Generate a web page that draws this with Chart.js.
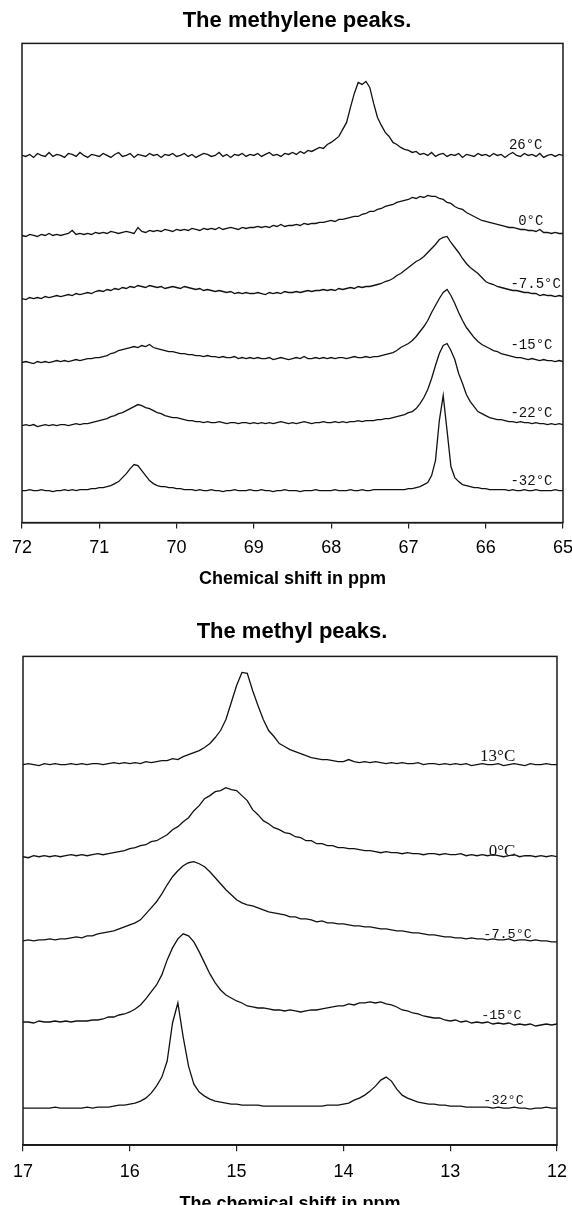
<!DOCTYPE html>
<html>
<head>
<meta charset="utf-8">
<script src="https://cdn.jsdelivr.net/npm/chart.js@4.4.0/dist/chart.umd.min.js"></script>
<style>
  html, body { margin: 0; padding: 0; background: #fff; overflow: hidden; }
  #wrap { position: relative; width: 572px; height: 1205px; overflow: hidden; }
  canvas { position: absolute; left: 0; }
  #topChart { top: 0; }
  #bottomChart { top: 610px; }
</style>
</head>
<body>
<div id="wrap">
  <canvas id="topChart" width="582" height="610"></canvas>
  <canvas id="bottomChart" width="577" height="630"></canvas>
</div>
<script>
// ---- methylene spectra (ppm 72 -> 65), intensity above each trace's baseline
var ppmTop = [
  72,71.95,71.9,71.85,71.8,71.75,71.7,71.65,71.6,71.55,71.5,71.45,71.4,71.35,71.3,71.25,71.2,71.15,71.1,71.05,
  71,70.95,70.9,70.85,70.8,70.75,70.7,70.65,70.6,70.55,70.5,70.45,70.4,70.35,70.3,70.25,70.2,70.15,70.1,70.05,
  70,69.95,69.9,69.85,69.8,69.75,69.7,69.65,69.6,69.55,69.5,69.45,69.4,69.35,69.3,69.25,69.2,69.15,69.1,69.05,
  69,68.95,68.9,68.85,68.8,68.75,68.7,68.65,68.6,68.55,68.5,68.45,68.4,68.35,68.3,68.25,68.2,68.15,68.1,68.05,
  68,67.95,67.9,67.85,67.8,67.75,67.7,67.65,67.6,67.55,67.5,67.45,67.4,67.35,67.3,67.25,67.2,67.15,67.1,67.05,
  67,66.95,66.9,66.85,66.8,66.75,66.7,66.65,66.6,66.55,66.5,66.45,66.4,66.35,66.3,66.25,66.2,66.15,66.1,66.05,
  66,65.95,65.9,65.85,65.8,65.75,65.7,65.65,65.6,65.55,65.5,65.45,65.4,65.35,65.3,65.25,65.2,65.15,65.1,65.05,
  65
];
var tempsTop = ['26°C', '0°C', '-7.5°C', '-15°C', '-22°C', '-32°C'];
var offsetTop = [367, 287, 224, 160, 97, 32];

var ch2_26 = [
  0,-1,1,-2,2,0,-1,3,-1,1,0,-2,2,1,-1,3,0,-2,1,0,
  -1,2,0,-2,1,3,-1,0,2,-2,1,0,-1,2,0,1,-2,1,0,2,
  -1,0,2,-1,1,-2,0,2,1,-1,0,3,-1,1,-2,1,0,2,-1,1,
  0,2,-1,1,3,0,1,-1,2,1,3,1,4,2,5,4,6,8,7,11,
  13,16,19,26,33,48,62,73,71,74,68,52,38,30,23,19,13,11,8,6,
  5,3,4,1,2,0,3,-1,1,2,-1,1,0,2,-2,1,0,-1,2,0,
  1,-1,2,0,1,-2,1,3,0,-1,2,0,1,-1,2,-2,0,1,-1,1,
  0
];
var ch2_0 = [
  0,-1,1,0,-1,1,0,2,0,1,0,1,2,5,1,2,1,2,1,3,
  2,3,2,4,3,2,3,4,3,2,8,4,3,5,4,5,4,6,5,4,
  6,5,6,5,7,6,5,7,6,7,6,8,6,7,8,7,6,8,7,8,
  8,9,8,9,8,10,9,11,9,10,10,11,10,12,11,12,12,13,13,14,
  15,14,16,16,17,18,19,19,21,22,24,24,26,27,29,30,31,33,34,35,
  36,38,37,39,38,40,39,39,37,36,33,32,29,27,26,23,21,19,17,15,
  14,13,12,11,10,9,8,8,7,6,6,5,5,4,6,3,3,2,3,2,
  2
];
var ch2_m7 = [
  0,-1,1,0,1,0,2,1,2,3,2,3,4,3,5,4,5,6,5,7,
  8,7,9,8,10,9,11,10,12,11,13,12,11,13,12,11,12,10,11,12,
  11,10,12,11,10,9,10,8,9,8,7,8,7,6,7,5,6,5,6,5,
  5,6,5,4,6,5,6,5,7,6,6,7,6,7,8,7,8,8,9,8,
  9,8,10,9,10,11,10,12,11,12,12,13,14,15,17,18,20,23,25,28,
  31,34,37,39,42,46,50,54,59,61,62,56,51,46,40,35,31,28,25,21,
  17,15,14,12,11,10,9,8,8,7,6,6,5,5,3,4,3,3,2,3,
  2
];
var ch2_m15 = [
  0,1,0,-1,1,0,1,0,1,2,1,2,1,2,3,2,3,4,4,5,
  5,6,7,9,10,12,13,14,15,16,15,17,16,18,15,14,13,12,11,11,
  10,9,9,8,8,7,7,6,7,6,6,5,6,5,5,6,4,5,4,5,
  4,5,4,4,5,3,4,5,4,3,4,5,4,6,4,4,5,4,5,4,
  5,4,5,5,4,5,6,5,5,6,5,6,6,7,8,9,10,12,15,17,
  19,22,26,31,36,42,50,57,64,70,73,67,59,50,42,35,30,25,21,18,
  16,14,12,11,9,8,7,6,5,5,4,3,4,3,2,3,2,2,1,2,
  1
];
var ch2_m22 = [
  0,1,0,1,-1,0,1,0,1,0,1,1,0,1,2,1,2,2,3,4,
  5,6,7,9,10,12,13,15,17,19,21,20,18,17,15,13,12,10,9,8,
  8,7,6,5,5,4,4,3,4,3,3,4,3,2,3,3,2,3,3,2,
  3,2,3,2,3,2,3,4,3,2,3,2,3,4,3,2,3,3,4,3,
  3,4,3,4,3,4,4,5,4,5,5,5,6,6,7,7,8,9,10,11,
  13,14,17,22,28,36,47,60,72,80,82,75,66,52,42,31,24,19,14,12,
  10,8,7,6,6,5,4,4,3,4,3,3,2,3,2,2,1,2,1,2,
  1
];
var ch2_m32 = [
  0,0,1,0,0,1,0,0,-1,0,0,1,0,1,0,1,1,1,2,2,
  3,3,4,5,7,9,13,17,22,26,25,20,15,10,7,5,4,4,3,3,
  2,2,1,1,1,0,1,0,0,1,0,0,-1,0,0,1,0,0,0,1,
  0,0,1,0,0,-1,0,0,1,0,0,0,-1,0,0,0,1,0,0,0,
  0,1,0,0,0,1,0,0,1,0,0,1,1,1,1,1,1,1,1,1,
  2,2,3,4,6,8,15,30,70,95,60,24,13,9,6,5,4,3,3,2,
  2,1,1,1,1,1,0,1,0,0,1,0,0,1,0,0,0,0,1,0,
  0
];

// ---- methyl spectra (ppm 17 -> 12)
var ppmBottom = [
  17,16.95,16.9,16.85,16.8,16.75,16.7,16.65,16.6,16.55,16.5,16.45,16.4,16.35,16.3,16.25,16.2,16.15,16.1,16.05,
  16,15.95,15.9,15.85,15.8,15.75,15.7,15.65,15.6,15.55,15.5,15.45,15.4,15.35,15.3,15.25,15.2,15.15,15.1,15.05,
  15,14.95,14.9,14.85,14.8,14.75,14.7,14.65,14.6,14.55,14.5,14.45,14.4,14.35,14.3,14.25,14.2,14.15,14.1,14.05,
  14,13.95,13.9,13.85,13.8,13.75,13.7,13.65,13.6,13.55,13.5,13.45,13.4,13.35,13.3,13.25,13.2,13.15,13.1,13.05,
  13,12.95,12.9,12.85,12.8,12.75,12.7,12.65,12.6,12.55,12.5,12.45,12.4,12.35,12.3,12.25,12.2,12.15,12.1,12.05,
  12
];
var tempsBottom = ['13°C', '0°C', '-7.5°C', '-15°C', '-32°C'];
var offsetBottom = [380, 288, 204, 123, 37];

var ch3_13 = [
  0,1,0,-1,1,0,1,0,0,1,0,1,0,1,1,0,1,2,1,2,
  1,2,1,3,2,3,4,4,6,5,8,10,12,14,17,21,27,34,45,62,
  79,92,91,74,59,45,34,28,21,18,15,13,11,9,7,6,5,5,4,3,
  3,5,3,2,3,2,3,2,1,2,1,2,1,1,2,0,1,1,0,1,
  0,1,0,1,-1,0,1,0,0,1,-1,0,1,0,-1,1,0,0,1,0,
  0
];
var ch3_0 = [
  0,-1,1,0,1,0,1,0,1,2,1,2,1,2,3,2,3,4,5,6,
  8,9,11,12,15,16,19,22,27,30,35,39,46,51,58,61,65,66,69,67,
  66,61,56,47,42,36,33,29,27,24,23,20,19,16,16,13,13,11,11,9,
  9,8,8,7,6,6,5,4,5,4,4,3,4,3,3,2,3,3,2,3,
  2,2,3,1,2,1,2,1,2,1,0,1,2,0,1,1,0,1,0,1,
  0
];
var ch3_m7 = [
  0,1,0,1,1,2,1,2,2,3,4,3,5,5,7,8,9,10,12,14,
  16,18,21,27,33,39,47,56,64,70,75,78,79,77,74,69,63,57,51,46,
  41,38,36,35,33,31,29,28,27,26,24,24,22,22,21,19,20,18,18,17,
  17,16,15,15,14,14,13,12,12,11,10,10,9,8,8,7,6,6,5,4,
  4,3,3,2,3,2,2,1,2,1,1,2,0,1,1,0,1,0,0,-1,
  -1
];
var ch3_m15 = [
  0,0,-1,1,0,0,1,0,1,0,1,1,1,2,2,3,5,5,7,8,
  10,13,17,23,30,37,47,62,74,83,88,86,80,70,59,48,39,32,27,24,
  21,19,16,15,14,14,13,12,12,11,12,11,10,11,12,12,13,14,15,16,
  16,18,17,19,19,20,19,20,18,17,15,12,11,9,8,6,5,4,4,2,
  1,2,0,1,-1,0,-1,0,-2,-1,-2,-1,-3,-2,-3,-2,-4,-3,-2,-3,
  -2
];
var ch3_m32 = [
  0,0,0,0,0,0,1,0,0,0,0,0,1,0,1,1,1,2,3,3,
  4,5,7,10,15,22,31,47,85,105,71,42,24,16,12,9,7,6,5,4,
  4,3,3,3,3,2,2,2,2,2,2,2,2,2,2,2,2,3,3,3,
  4,5,8,10,13,17,22,28,31,27,19,13,10,8,6,5,4,4,3,3,
  2,2,2,1,1,1,1,1,0,1,0,0,1,0,0,-1,0,0,1,0,
  0
];

Chart.defaults.font.family = '"Liberation Sans", Arial, sans-serif';
Chart.defaults.color = '#000';

var framePlugin = {
  id: 'frame',
  afterDatasetsDraw: function(chart) {
    var a = chart.chartArea;
    var ctx = chart.ctx;
    ctx.save();
    ctx.strokeStyle = '#1a1a1a';
    ctx.lineWidth = 1.5;
    ctx.strokeRect(a.left, a.top, a.right - a.left, a.bottom - a.top);
    ctx.restore();
  }
};

var tempLabelPlugin = {
  id: 'tempLabels',
  afterDatasetsDraw: function(chart, args, opts) {
    var ctx = chart.ctx;
    var xs = chart.scales.x, ys = chart.scales.y;
    ctx.save();
    ctx.fillStyle = '#111';
    ctx.textBaseline = 'middle';
    ctx.textAlign = 'left';
    chart.data.datasets.forEach(function(ds, i) {
      ctx.font = opts.fonts[i];
      ctx.fillText(ds.label, xs.getPixelForValue(opts.at[i]), ys.getPixelForValue(opts.offsets[i] + opts.lift[i]));
    });
    ctx.restore();
  }
};

function buildSets(ppm, series, offsets, names) {
  return series.map(function(vals, i) {
    return {
      label: names[i],
      data: ppm.map(function(x, j) { return {x: x, y: offsets[i] + vals[j]}; }),
      borderColor: '#111',
      borderWidth: 1.3,
      pointRadius: 0,
      tension: 0,
      fill: false
    };
  });
}

function makeChart(id, cfg) {
  return new Chart(document.getElementById(id), {
    type: 'line',
    data: { datasets: buildSets(cfg.ppm, cfg.series, cfg.offsets, cfg.names) },
    plugins: [framePlugin, tempLabelPlugin],
    options: {
      responsive: false,
      animation: false,
      events: [],
      layout: { padding: cfg.pad },
      scales: {
        x: {
          type: 'linear',
          min: cfg.min,
          max: cfg.max,
          reverse: true,
          ticks: { stepSize: 1, padding: cfg.tickPad, font: { size: 18 }, color: '#000' },
          grid: { display: true, drawOnChartArea: false, drawTicks: true, tickLength: 6, color: '#222', lineWidth: 1.2 },
          border: { display: true, color: '#1a1a1a', width: 1.5 },
          title: { display: true, text: cfg.xTitle, font: { size: 18, weight: 'bold' }, color: '#000', padding: cfg.xTitlePad }
        },
        y: { display: false, min: 0, max: cfg.yMax }
      },
      plugins: {
        legend: { display: false },
        tooltip: { enabled: false },
        title: { display: true, text: cfg.title, font: { size: 22, weight: 'bold' }, color: '#000', padding: cfg.titlePad },
        tempLabels: cfg.labels
      }
    }
  });
}

makeChart('topChart', {
  ppm: ppmTop,
  series: [ch2_26, ch2_0, ch2_m7, ch2_m15, ch2_m22, ch2_m32],
  offsets: offsetTop,
  names: tempsTop,
  min: 65, max: 72, yMax: 479,
  title: 'The methylene peaks.',
  xTitle: 'Chemical shift in ppm',
  pad: { left: 22, right: 10, top: 0, bottom: 0 },
  titlePad: { top: 8, bottom: 9 },
  tickPad: 9,
  xTitlePad: { top: 0, bottom: 20.2 },
  labels: {
    at: [65.70, 65.58, 65.68, 65.68, 65.68, 65.68],
    offsets: offsetTop,
    lift: [10, 14.5, 14.7, 17.7, 12, 9],
    fonts: ['14px "Liberation Mono"', '14px "Liberation Mono"', '14px "Liberation Mono"',
            '14px "Liberation Mono"', '14px "Liberation Mono"', '14px "Liberation Mono"']
  }
});

makeChart('bottomChart', {
  ppm: ppmBottom,
  series: [ch3_13, ch3_0, ch3_m7, ch3_m15, ch3_m32],
  offsets: offsetBottom,
  names: tempsBottom,
  min: 12, max: 17, yMax: 488,
  title: 'The methyl peaks.',
  xTitle: 'The chemical shift in ppm',
  pad: { left: 23, right: 16, top: 0, bottom: 0 },
  titlePad: { top: 9, bottom: 11 },
  tickPad: 10,
  xTitlePad: { top: 0, bottom: 25.6 },
  labels: {
    at: [12.72, 12.64, 12.69, 12.71, 12.69],
    offsets: offsetBottom,
    lift: [8, 5, 6.5, 7, 8],
    fonts: ['17px "Liberation Serif"', '17px "Liberation Serif"', '13.5px "Liberation Mono"',
            '13.5px "Liberation Mono"', '13.5px "Liberation Mono"']
  }
});
</script>
</body>
</html>
